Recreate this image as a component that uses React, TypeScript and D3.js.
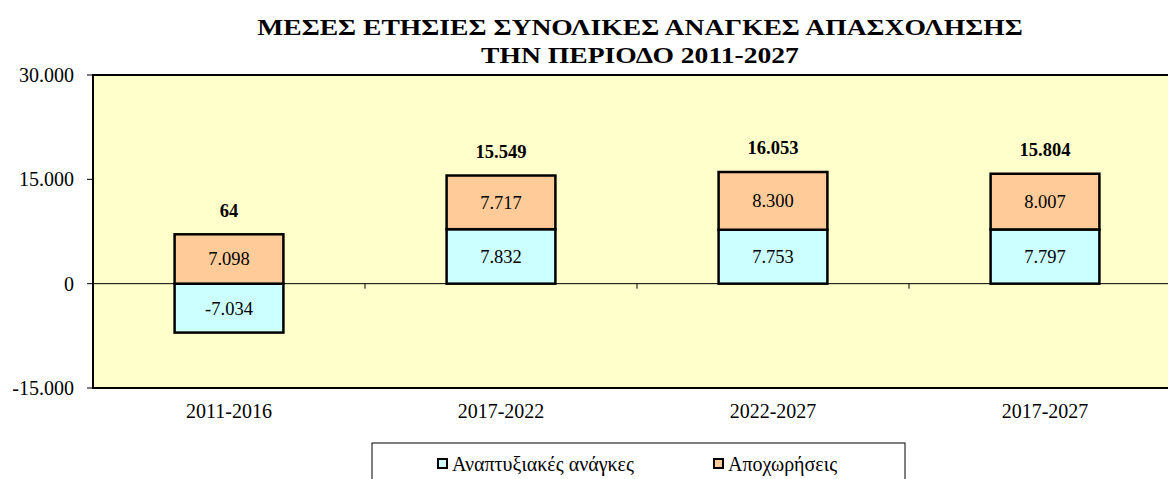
import React from "react";
import * as d3 from "d3";

const categories = ["2011-2016", "2017-2022", "2022-2027", "2017-2027"];
const developmentNeeds = [-7034, 7832, 7753, 7797];
const retirements = [7098, 7717, 8300, 8007];
const seriesNames = ["Αναπτυξιακές ανάγκες", "Αποχωρήσεις"];
const yTicks = [-15000, 0, 15000, 30000];
const titleLines = ["ΜΕΣΕΣ ΕΤΗΣΙΕΣ ΣΥΝΟΛΙΚΕΣ ΑΝΑΓΚΕΣ ΑΠΑΣΧΟΛΗΣΗΣ", "ΤΗΝ ΠΕΡΙΟΔΟ 2011-2027"];

const W = 1168;
const H = 479;
const FONT = "Liberation Serif, DejaVu Serif, serif";
const colors = ["#CCFFFF", "#FFCC99"];

const locale = d3.formatLocale({ decimal: ",", thousands: ".", grouping: [3], currency: ["", "€"], minus: "-" });
const fmt = locale.format(",d");

export default function App() {
  const left = 93, right = 1181, top = 75, bottom = 388;
  const x = d3.scaleBand<string>().domain(categories).range([left, right]).paddingInner(0.6).paddingOuter(0.3);
  const band = d3.scaleBand<string>().domain(categories).range([left, right]);
  const y = d3.scaleLinear().domain([-15000, 30000]).range([bottom, top]);

  const rows = categories.map((c, i) => {
    const vals = [developmentNeeds[i], retirements[i]];
    let pos = 0, neg = 0;
    const segs = vals.map((v, k) => {
      let y0, y1;
      if (v >= 0) { y0 = pos; y1 = pos + v; pos = y1; }
      else { y0 = neg; y1 = neg + v; neg = y1; }
      return { k, v, y0, y1 };
    });
    return { c, segs, total: vals[0] + vals[1], top: pos };
  });

  const ts = { fontFamily: FONT };

  return (
    <svg width={W} height={H} style={{ position: "absolute", left: 0, top: 0, background: "#fff", fontFamily: FONT }}>
      {titleLines.map((t, i) => (
        <text key={i} style={ts} transform={`translate(640,${35 + i * 28}) scale(1.15,1)`} textAnchor="middle" fontWeight="bold" fontSize={24}>{t}</text>
      ))}
      <rect x={left} y={top} width={right - left} height={bottom - top} fill="#FFFFCC" stroke="#000" strokeWidth={2} />
      <line x1={left} x2={right} y1={y(0)} y2={y(0)} stroke="#000" strokeWidth={1} />
      {categories.slice(1).map((c) => (
        <line key={c} x1={band(c)!} x2={band(c)!} y1={y(0)} y2={y(0) + 5} stroke="#000" strokeWidth={1} />
      ))}
      {yTicks.map((t) => (
        <g key={t}>
          <line x1={left - 6} x2={left} y1={y(t)} y2={y(t)} stroke="#000" strokeWidth={1} />
          <text style={ts} x={left - 19} y={y(t)} dy="0.35em" textAnchor="end" fontSize={20}>{fmt(t)}</text>
        </g>
      ))}
      {rows.map((r) => (
        <g key={r.c}>
          {r.segs.map((s) => (
            <g key={s.k}>
              <rect x={x(r.c)!} y={y(Math.max(s.y0, s.y1))} width={x.bandwidth()} height={Math.abs(y(s.y0) - y(s.y1))}
                fill={colors[s.k]} stroke="#000" strokeWidth={2.5} />
              <text style={ts} x={x(r.c)! + x.bandwidth() / 2} y={y((s.y0 + s.y1) / 2)} dy="0.35em" textAnchor="middle" fontSize={18.5}>{fmt(s.v)}</text>
            </g>
          ))}
          <text style={ts} x={x(r.c)! + x.bandwidth() / 2} y={y(r.top) - 24} dy="0.35em" textAnchor="middle" fontSize={18.5} fontWeight="bold">{fmt(r.total)}</text>
          <text style={ts} x={x(r.c)! + x.bandwidth() / 2} y={411} dy="0.35em" textAnchor="middle" fontSize={20}>{r.c}</text>
        </g>
      ))}
      <rect x={372} y={443} width={533} height={60} fill="#fff" stroke="#000" strokeWidth={1} />
      {seriesNames.map((n, i) => {
        const lx = [437, 713][i];
        return (
          <g key={n}>
            <rect x={lx + 1} y={459} width={9} height={9} fill={colors[i]} stroke="#000" strokeWidth={2} />
            <text style={ts} x={lx + 15} y={464} dy="0.35em" fontSize={20}>{n}</text>
          </g>
        );
      })}
    </svg>
  );
}
